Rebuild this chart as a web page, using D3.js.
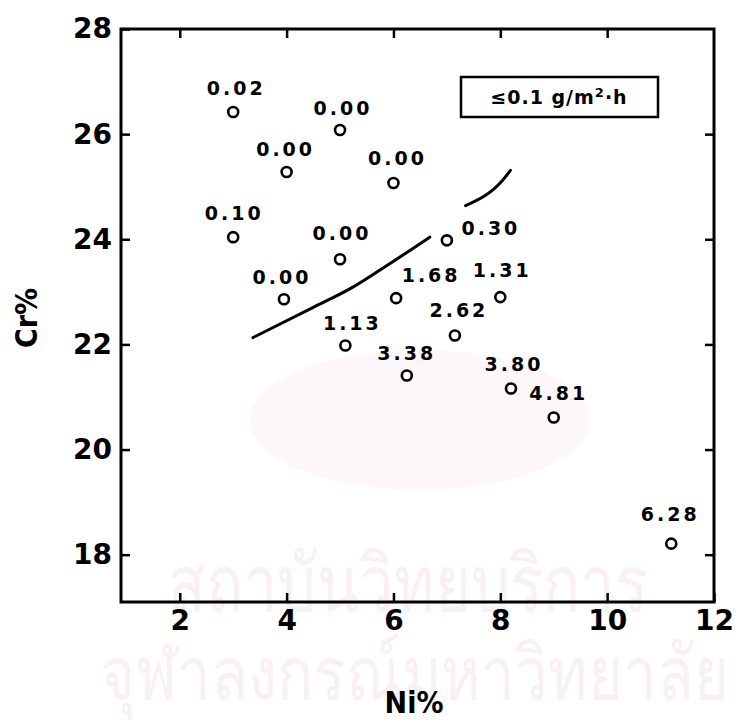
<!DOCTYPE html>
<html>
<head>
<meta charset="utf-8">
<script src="https://cdn.jsdelivr.net/npm/d3@7"></script>
<style>
  html, body { margin: 0; padding: 0; background: #fff; }
  svg { display: block; }
  .tick-lbl { font-family: "DejaVu Sans", sans-serif; font-weight: 700; font-size: 28px; fill: #000; }
  .pt-lbl { font-family: "DejaVu Sans", sans-serif; font-weight: 700; font-size: 19px; letter-spacing: 3px; fill: #000; }
  .wm { font-family: "Noto Sans", "DejaVu Sans", sans-serif; fill: #f9f0f4; }
</style>
</head>
<body>
<div id="chart"></div>
<script>
// Ni% (x) vs Cr% (y), number = corrosion rate
const NI = [3.0, 5.0, 4.0, 6.0, 3.0, 5.0, 3.95, 5.1, 6.25, 6.05, 7.0, 7.15, 8.0, 8.2, 9.0, 11.2];
const CR = [26.42, 26.08, 25.28, 25.07, 24.04, 23.62, 22.86, 21.98, 21.41, 22.88, 23.98, 22.17, 22.9, 21.16, 20.61, 18.21];
const RATE = ["0.02", "0.00", "0.00", "0.00", "0.10", "0.00", "0.00", "1.13", "3.38", "1.68", "0.30", "2.62", "1.31", "3.80", "4.81", "6.28"];

// label offset in px from its point (layout only)
const LABEL_DX = [3, 3, -1, 4, 1, 2, -2, 7, 0, 35, 44, 4, 2, 3, 5, -1];
const LABEL_DY = [-17, -15, -16, -18, -17, -19, -15, -15, -15, -16, -5, -18, -20, -18, -17, -23];

// boundary of the <0.1 g/m2h region (two pieces)
const BOUNDARY_A = [[3.37, 22.13], [4.49, 22.7], [5.24, 23.09], [5.74, 23.41], [6.68, 24.04]];
const BOUNDARY_B = [[7.35, 24.64], [8.04, 25.12], [8.19, 25.31]];

const X_TICKS = [2, 4, 6, 8, 10, 12];
const Y_TICKS = [18, 20, 22, 24, 26, 28];

const WATERMARK = ["สถาบันวิทยบริการ", "จุฬาลงกรณ์มหาวิทยาลัย"];

const W = 736, H = 720;
const M = { left: 121, right: 22, top: 29, bottom: 118 };

const svg = d3.select("#chart").append("svg").attr("width", W).attr("height", H);

// faint watermark of the scan
svg.append("ellipse").attr("cx", 420).attr("cy", 420).attr("rx", 170).attr("ry", 70).attr("fill", "#fdf7f9");
svg.append("text").attr("class", "wm").attr("x", 168).attr("y", 612)
  .attr("font-size", 80).attr("textLength", 480).attr("lengthAdjust", "spacingAndGlyphs").text(WATERMARK[0]);
svg.append("text").attr("class", "wm").attr("x", 100).attr("y", 700)
  .attr("font-size", 76).attr("textLength", 630).attr("lengthAdjust", "spacingAndGlyphs").text(WATERMARK[1]);

const x = d3.scaleLinear().domain([0.9, 12]).range([M.left, W - M.right]);
const y = d3.scaleLinear().domain([17.1, 28]).range([H - M.bottom, M.top]);

const x0 = x.range()[0], x1 = x.range()[1];
const y0 = y.range()[0], y1 = y.range()[1];

// axes, ticks pointing inward
const fmt = d3.format("d");
svg.append("g").attr("transform", `translate(0,${y0})`)
  .call(d3.axisBottom(x).tickValues(X_TICKS).tickFormat(fmt).tickSizeInner(-9).tickSizeOuter(0).tickPadding(8))
  .call((g) => g.select(".domain").remove());
svg.append("g").attr("transform", `translate(${x0},0)`)
  .call(d3.axisLeft(y).tickValues(Y_TICKS).tickFormat(fmt).tickSizeInner(-9).tickSizeOuter(0).tickPadding(9))
  .call((g) => g.select(".domain").remove());
svg.append("g").attr("transform", `translate(0,${y1})`)
  .call(d3.axisTop(x).tickValues(X_TICKS.slice(0, -1)).tickFormat("").tickSizeInner(-9).tickSizeOuter(0))
  .call((g) => g.select(".domain").remove());
svg.append("g").attr("transform", `translate(${x1},0)`)
  .call(d3.axisRight(y).tickValues(Y_TICKS.slice(0, -1)).tickFormat("").tickSizeInner(-9).tickSizeOuter(0))
  .call((g) => g.select(".domain").remove());

svg.selectAll(".tick line").attr("stroke", "#000").attr("stroke-width", 2.5);
svg.selectAll(".tick text").attr("class", "tick-lbl").attr("font-size", null).attr("font-family", null);

svg.append("rect")
  .attr("x", x0).attr("y", y1).attr("width", x1 - x0).attr("height", y0 - y1)
  .attr("fill", "none").attr("stroke", "#000").attr("stroke-width", 3);

// axis titles
svg.append("text").attr("x", 414).attr("y", 713).attr("text-anchor", "middle")
  .attr("font-family", "'Liberation Sans Narrow', 'DejaVu Sans Condensed', sans-serif")
  .attr("font-weight", 700).attr("font-size", 30).text("Ni%");
svg.append("text").attr("transform", "translate(37,318) rotate(-90)").attr("text-anchor", "middle")
  .attr("font-family", "'Liberation Sans Narrow', 'DejaVu Sans Condensed', sans-serif")
  .attr("font-weight", 700).attr("font-size", 30).text("Cr%");

// boundary line
const line = d3.line().x((d) => x(d[0])).y((d) => y(d[1])).curve(d3.curveMonotoneX);
svg.selectAll("path.bnd").data([BOUNDARY_A, BOUNDARY_B]).join("path")
  .attr("class", "bnd").attr("d", line)
  .attr("fill", "none").attr("stroke", "#000").attr("stroke-width", 3).attr("stroke-linecap", "round");

// points
const idx = d3.range(NI.length);
svg.selectAll("circle.pt").data(idx).join("circle")
  .attr("class", "pt")
  .attr("cx", (i) => x(NI[i])).attr("cy", (i) => y(CR[i])).attr("r", 5)
  .attr("fill", "#fff").attr("stroke", "#000").attr("stroke-width", 2.6);

svg.selectAll("text.pt-lbl").data(idx).join("text")
  .attr("class", "pt-lbl")
  .attr("x", (i) => x(NI[i]) + LABEL_DX[i]).attr("y", (i) => y(CR[i]) + LABEL_DY[i])
  .attr("text-anchor", "middle").text((i) => RATE[i]);

// legend box
const lg = svg.append("g").attr("transform", `translate(${x1 - 253},77)`);
lg.append("rect").attr("width", 197).attr("height", 40).attr("fill", "#fff").attr("stroke", "#000").attr("stroke-width", 2.5);
lg.append("text").attr("x", 98).attr("y", 27).attr("text-anchor", "middle")
  .attr("font-family", "'DejaVu Sans', sans-serif").attr("font-weight", 700).attr("font-size", 19)
  .attr("letter-spacing", 1)
  .html("≤0.1 g/m<tspan dy='-7' font-size='13'>2</tspan><tspan dy='7'>·h</tspan>");
</script>
</body>
</html>
